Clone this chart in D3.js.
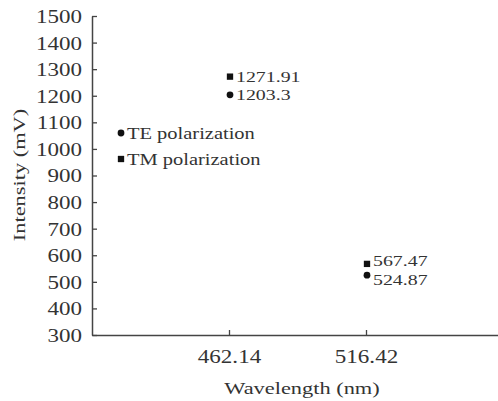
<!DOCTYPE html>
<html>
<head>
<meta charset="utf-8">
<script src="https://cdn.jsdelivr.net/npm/d3@7"></script>
<style>
  html, body { margin: 0; padding: 0; background: #fff; }
</style>
</head>
<body>
<svg id="chart" width="498" height="401"></svg>
<script>
// Wavelength categories (nm) and measured intensities (mV)
const wavelengths = ["462.14", "516.42"];
const teValues = [1203.3, 524.87];
const tmValues = [1271.91, 567.47];
const yTicks = [300, 400, 500, 600, 700, 800, 900, 1000, 1100, 1200, 1300, 1400, 1500];
const seriesNames = ["TE polarization", "TM polarization"];

const serif = "'Liberation Serif', 'Times New Roman', serif";
const textColor = "#333";
const axisColor = "#444";
const stretch = 1.28; // wide, horizontally stretched lettering

const svg = d3.select("#chart");
const plotLeft = 92, plotRight = 503, plotTop = 16, plotBottom = 335;

// positions 1 and 2 on a 0..3 index axis
const x = d3.scaleLinear().domain([0, 3]).range([plotLeft, plotRight]);
const y = d3.scaleLinear().domain([300, 1500]).range([plotBottom, plotTop]);

function styleText(sel, size) {
  sel.style("font-family", serif)
    .style("font-size", size + "px")
    .style("fill", textColor);
}

// stretched text anchored at (px, py)
function label(parent, px, py, str, size, anchor = "start", rotate = 0) {
  const g = parent.append("g").attr("transform", `translate(${px},${py}) rotate(${rotate})`);
  const t = g.append("text")
    .attr("transform", `scale(${stretch},1)`)
    .attr("text-anchor", anchor)
    .text(str);
  styleText(t, size);
  return t;
}

// y axis
const yAxis = svg.append("g")
  .attr("transform", `translate(${plotLeft},0)`)
  .call(d3.axisLeft(y).tickValues(yTicks).tickFormat(d3.format("d"))
    .tickSizeInner(-5).tickSizeOuter(0).tickPadding(10));
yAxis.select(".domain").attr("stroke", axisColor).attr("stroke-width", 1.5);
yAxis.selectAll(".tick line").attr("stroke", axisColor).attr("stroke-width", 1.3);
yAxis.selectAll(".tick text")
  .attr("x", -10 / stretch)
  .attr("transform", `scale(${stretch},1)`)
  .attr("dy", "0.36em");
styleText(yAxis.selectAll(".tick text"), 18);

// x axis
const xAxis = svg.append("g")
  .attr("transform", `translate(0,${plotBottom})`)
  .call(d3.axisBottom(x).tickValues([1, 2]).tickFormat((d) => wavelengths[d - 1])
    .tickSizeInner(-5).tickSizeOuter(0).tickPadding(15));
xAxis.select(".domain").attr("stroke", axisColor).attr("stroke-width", 1.5);
xAxis.selectAll(".tick line").attr("stroke", axisColor).attr("stroke-width", 1.3);
xAxis.selectAll(".tick text").attr("transform", `scale(${stretch},1)`);
styleText(xAxis.selectAll(".tick text"), 18);

// axis titles
label(svg, 302, 394, "Wavelength (nm)", 17.5, "middle");
label(svg, 25, 175, "Intensity (mV)", 17.5, "middle", -90);

// data points with value labels
const symCircle = d3.symbol().type(d3.symbolCircle).size(36);
const symSquare = d3.symbol().type(d3.symbolSquare).size(40);

// small vertical nudges keep close value labels apart
function drawSeries(values, sym, nudges) {
  const g = svg.append("g");
  values.forEach((v, i) => {
    const cx = x(i + 1) + 1, cy = y(v);
    g.append("path").attr("d", sym()).attr("transform", `translate(${cx},${cy})`).attr("fill", "#111");
    label(g, cx + 6, cy + 5.5 + nudges[i], v, 15.5);
  });
}
drawSeries(teValues, symCircle, [0, 4]);
drawSeries(tmValues, symSquare, [0, -3]);

// legend
const legend = svg.append("g").attr("transform", "translate(120,133)");
[symCircle, symSquare].forEach((sym, i) => {
  legend.append("path").attr("d", sym()).attr("transform", `translate(1,${i * 26})`).attr("fill", "#111");
  label(legend, 7, i * 26 + 5.5, seriesNames[i], 16);
});
</script>
</body>
</html>
